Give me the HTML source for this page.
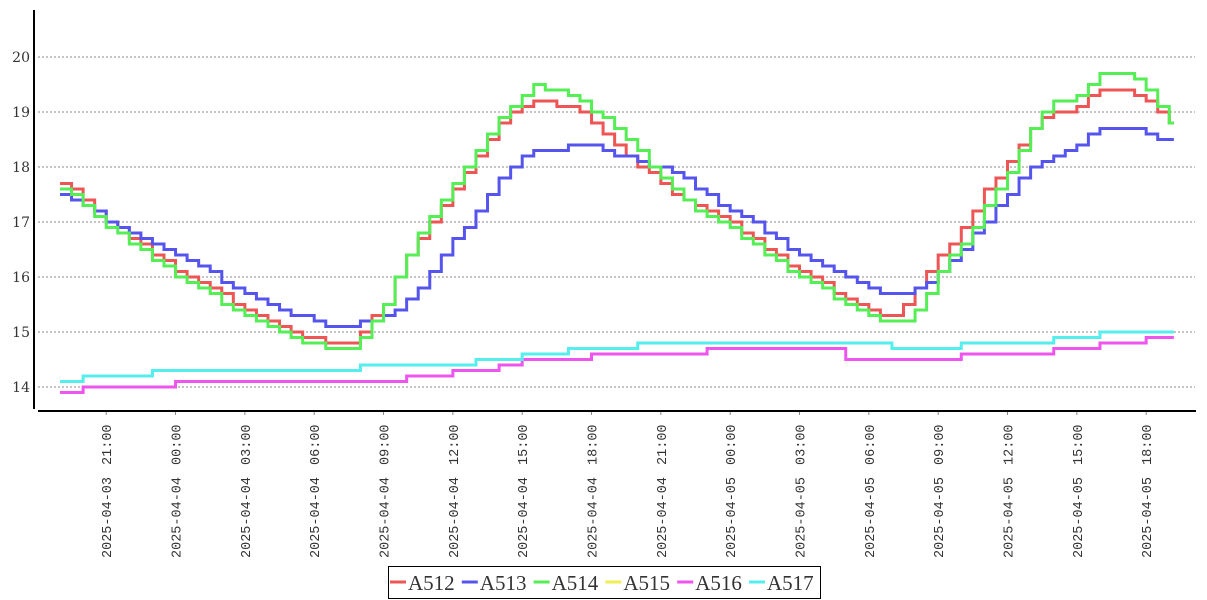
<!DOCTYPE html>
<html><head><meta charset="utf-8"><style>
html,body{margin:0;padding:0;background:#fff;}
svg{display:block;}
</style></head><body>
<svg id="chart" width="1207" height="600" viewBox="0 0 1207 600" xmlns="http://www.w3.org/2000/svg">
<g id="grid"></g>
<g id="yaxis"></g>
<g id="xaxis"></g>
<g id="series"></g>
<g id="legend"></g>
</svg>
<script>
const yTicks = [14, 15, 16, 17, 18, 19, 20];
const xTickDates = ["2025-04-03","2025-04-04","2025-04-04","2025-04-04","2025-04-04","2025-04-04","2025-04-04","2025-04-04","2025-04-04","2025-04-05","2025-04-05","2025-04-05","2025-04-05","2025-04-05","2025-04-05","2025-04-05"];
const xTickTimes = ["21:00","00:00","03:00","06:00","09:00","12:00","15:00","18:00","21:00","00:00","03:00","06:00","09:00","12:00","15:00","18:00"];
const xTickHours = [2,5,8,11,14,17,20,23,26,29,32,35,38,41,44,47];
const seriesNames = ["A512","A513","A514","A515","A516","A517"];
const endHour = 48.2;
// half-hourly samples (t = 0, 0.5, 1 ... 48 hours from 2025-04-03 19:00)
const a512 = [17.7,17.6,17.4,17.2,17.0,16.9,16.7,16.6,16.4,16.3,16.1,16.0,15.9,15.8,15.7,15.5,15.4,15.3,15.2,15.1,15.0,14.9,14.9,14.8,14.8,14.8,15.0,15.3,15.5,16.0,16.4,16.7,17.0,17.3,17.6,17.9,18.2,18.5,18.8,19.0,19.1,19.2,19.2,19.1,19.1,19.0,18.8,18.6,18.4,18.2,18.0,17.9,17.7,17.5,17.4,17.3,17.2,17.1,17.0,16.8,16.7,16.5,16.4,16.2,16.1,16.0,15.9,15.7,15.6,15.5,15.4,15.3,15.3,15.5,15.8,16.1,16.4,16.6,16.9,17.2,17.6,17.8,18.1,18.4,18.7,18.9,19.0,19.0,19.1,19.3,19.4,19.4,19.4,19.3,19.2,19.0,18.8];
const a513 = [17.5,17.4,17.3,17.2,17.0,16.9,16.8,16.7,16.6,16.5,16.4,16.3,16.2,16.1,15.9,15.8,15.7,15.6,15.5,15.4,15.3,15.3,15.2,15.1,15.1,15.1,15.2,15.2,15.3,15.4,15.6,15.8,16.1,16.4,16.7,16.9,17.2,17.5,17.8,18.0,18.2,18.3,18.3,18.3,18.4,18.4,18.4,18.3,18.2,18.2,18.1,18.0,18.0,17.9,17.8,17.6,17.5,17.3,17.2,17.1,17.0,16.8,16.7,16.5,16.4,16.3,16.2,16.1,16.0,15.9,15.8,15.7,15.7,15.7,15.8,15.9,16.1,16.3,16.5,16.8,17.0,17.3,17.5,17.8,18.0,18.1,18.2,18.3,18.4,18.6,18.7,18.7,18.7,18.7,18.6,18.5,18.5];
const a514 = [17.6,17.5,17.3,17.1,16.9,16.8,16.6,16.5,16.3,16.2,16.0,15.9,15.8,15.7,15.5,15.4,15.3,15.2,15.1,15.0,14.9,14.8,14.8,14.7,14.7,14.7,14.9,15.2,15.5,16.0,16.4,16.8,17.1,17.4,17.7,18.0,18.3,18.6,18.9,19.1,19.3,19.5,19.4,19.4,19.3,19.2,19.0,18.9,18.7,18.5,18.3,18.0,17.8,17.6,17.4,17.2,17.1,17.0,16.9,16.7,16.6,16.4,16.3,16.1,16.0,15.9,15.8,15.6,15.5,15.4,15.3,15.2,15.2,15.2,15.4,15.7,16.1,16.4,16.6,16.9,17.3,17.6,17.9,18.3,18.7,19.0,19.2,19.2,19.3,19.5,19.7,19.7,19.7,19.6,19.4,19.1,18.8];
const a515 = [];
// hourly samples
const a516 = [13.9,14.0,14.0,14.0,14.0,14.1,14.1,14.1,14.1,14.1,14.1,14.1,14.1,14.1,14.1,14.2,14.2,14.3,14.3,14.4,14.5,14.5,14.5,14.6,14.6,14.6,14.6,14.6,14.7,14.7,14.7,14.7,14.7,14.7,14.5,14.5,14.5,14.5,14.5,14.6,14.6,14.6,14.6,14.7,14.7,14.8,14.8,14.9,14.9];
const a517 = [14.1,14.2,14.2,14.2,14.3,14.3,14.3,14.3,14.3,14.3,14.3,14.3,14.3,14.4,14.4,14.4,14.4,14.4,14.5,14.5,14.6,14.6,14.7,14.7,14.7,14.8,14.8,14.8,14.8,14.8,14.8,14.8,14.8,14.8,14.8,14.8,14.7,14.7,14.7,14.8,14.8,14.8,14.8,14.9,14.9,15.0,15.0,15.0,15.0];
const seriesData = [a512,a513,a514,a515,a516,a517];
const colors = ["#ee5555","#5555ee","#55ee55","#eeee55","#ee55ee","#55eeee"];

const NS = "http://www.w3.org/2000/svg";
function xPos(h){ return 60 + h * 23.11; }
function yPos(v){ return 387 - (v - 14) * 55; }
function mk(tag, attrs, parent){
  const e = document.createElementNS(NS, tag);
  for (const k in attrs) e.setAttribute(k, attrs[k]);
  parent.appendChild(e);
  return e;
}
const grid = document.getElementById('grid');
const yaxis = document.getElementById('yaxis');
const xaxis = document.getElementById('xaxis');
const seriesG = document.getElementById('series');
const legend = document.getElementById('legend');

yTicks.forEach(v => {
  const g = mk('line', {x1:38, x2:1195, y1:yPos(v), y2:yPos(v), stroke:'#888', 'stroke-width':1, 'stroke-dasharray':'2,2'}, grid);
  
  
  const t = mk('text', {x:30, y:yPos(v)+5, 'text-anchor':'end', 'font-family':'"DejaVu Serif","Liberation Serif",serif', 'font-size':14, fill:'#333'}, yaxis);
  t.textContent = v;
  
  
});
const yl = mk('line', {x1:34, x2:34, y1:10, y2:409, stroke:'#000', 'stroke-width':2}, yaxis);


const xl = mk('line', {x1:38, x2:1196, y1:411, y2:411, stroke:'#000', 'stroke-width':2}, xaxis);



xTickDates.forEach((dt, i) => {
  const x = xPos(xTickHours[i]);
  const tk = mk('line', {x1:x, x2:x, y1:412, y2:415, stroke:'#888', 'stroke-width':1}, xaxis);
  
  
  const t = mk('text', {x:0, y:0, 'text-anchor':'start', 'font-family':'"Liberation Mono",monospace', 'font-size':13.5, fill:'#333', transform:'translate(' + (x+5) + ',558) rotate(-90)'}, xaxis);
  
  
  const s1 = mk('tspan', {}, t);
  s1.textContent = dt;
  const s2 = mk('tspan', {dx:12}, t);
  s2.textContent = xTickTimes[i];
});

seriesData.forEach((arr, si) => {
  if (!arr.length) return;
  const step = endHour / (arr.length > 60 ? 96.4 : 48.2) ;
  const dt = arr.length > 60 ? 0.5 : 1;
  let d = 'M' + xPos(0) + ',' + yPos(arr[0]);
  for (let i = 1; i < arr.length; i++) {
    d += ' H' + xPos(i*dt) + ' V' + yPos(arr[i]);
  }
  d += ' H' + xPos(endHour);
  const p = mk('path', {d:d, fill:'none', stroke:colors[si], 'stroke-width':3}, seriesG);
  
  
});

const box = mk('rect', {x:388.5, y:566.5, width:432, height:32, fill:'#fff', stroke:'#000', 'stroke-width':1}, legend);


seriesNames.forEach((n, i) => {
  const g = mk('g', {}, legend);
  
  
  const x0 = 390 + i * 71.8;
  mk('line', {x1:x0, x2:x0+16, y1:582, y2:582, stroke:colors[i], 'stroke-width':3}, g);
  const t = mk('text', {x:x0+18, y:590, 'font-family':'"Liberation Serif","DejaVu Serif",serif', 'font-size':21, fill:'#333'}, g);
  t.textContent = n;
});
</script>
</body></html>
